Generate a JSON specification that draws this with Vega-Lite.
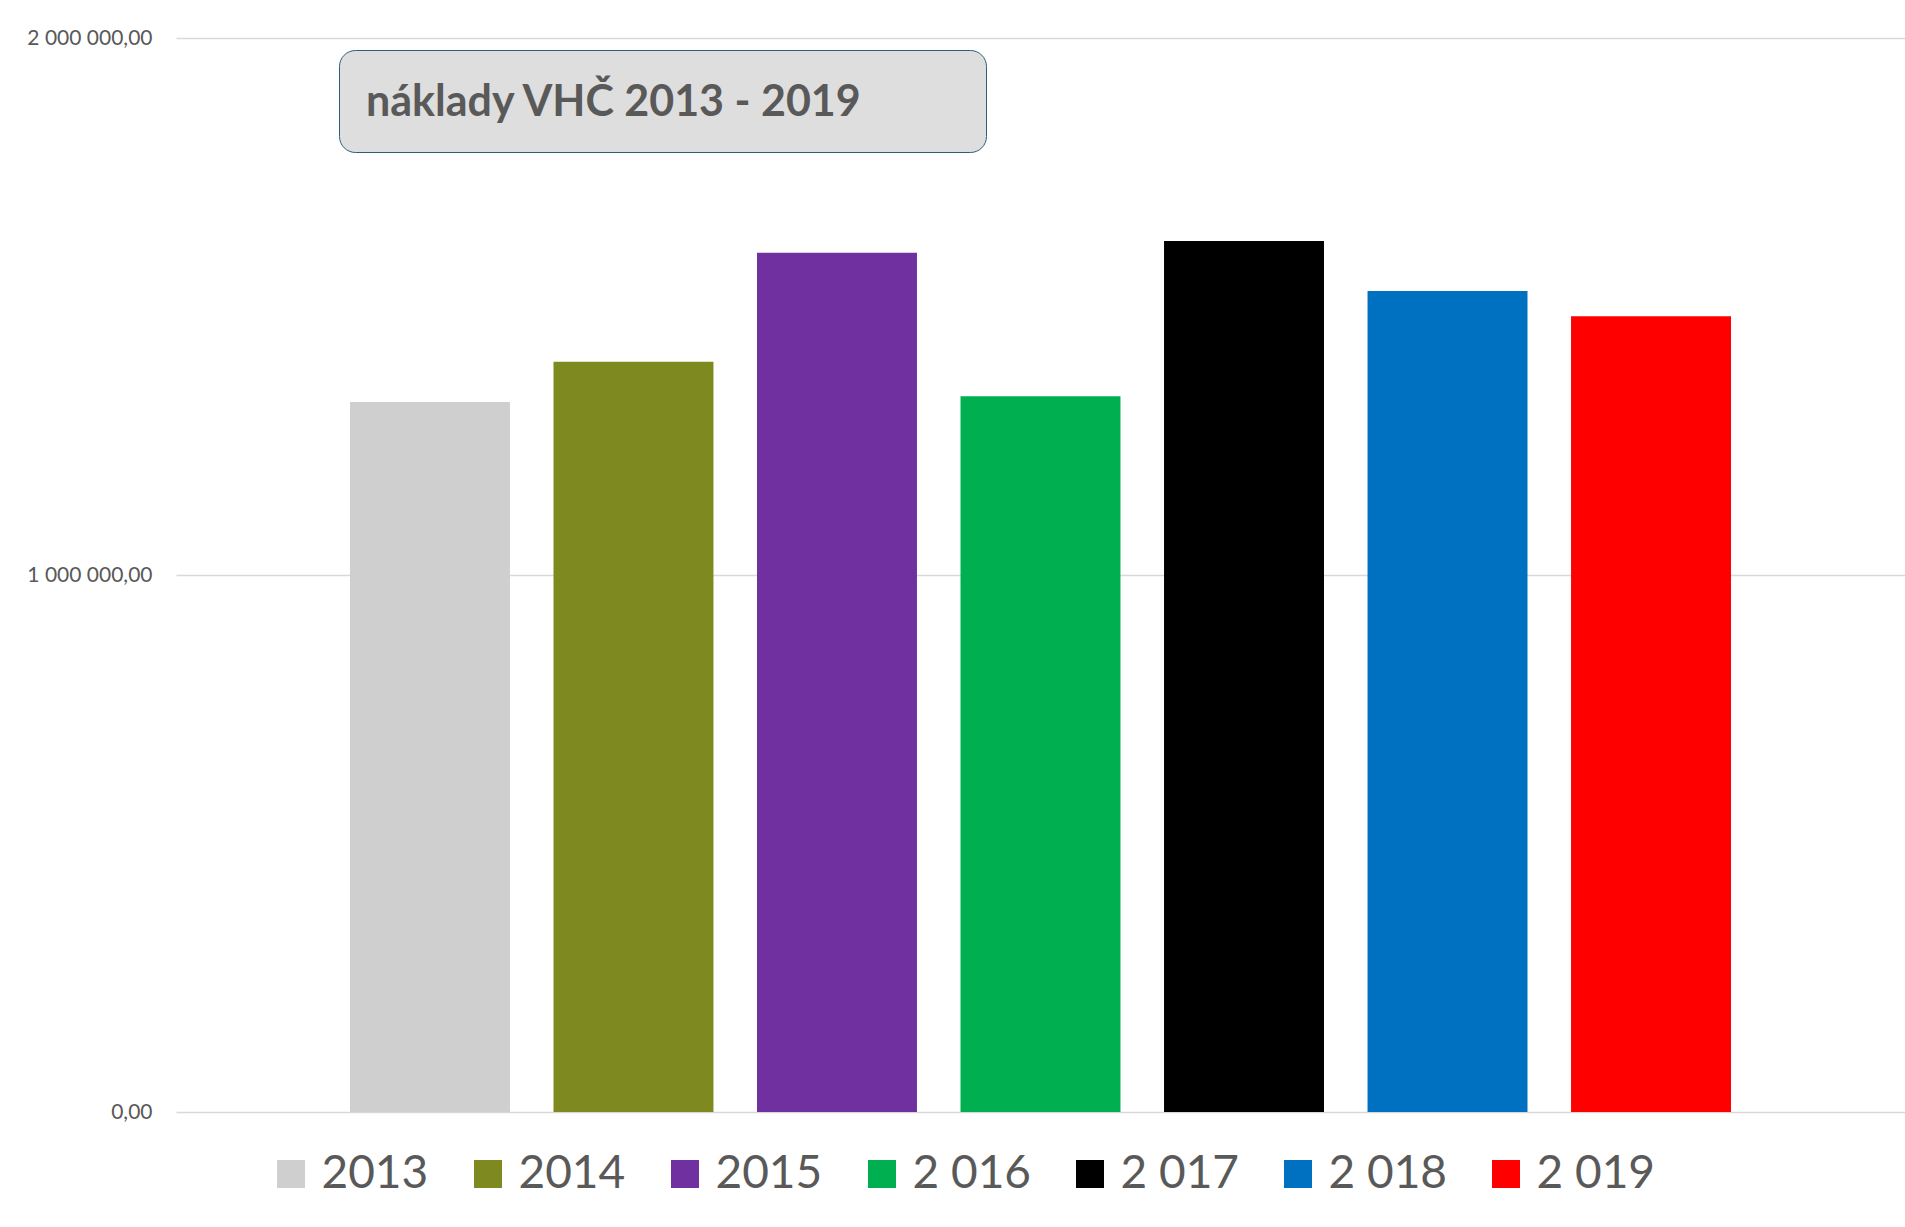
{
  "$schema": "https://vega.github.io/schema/vega-lite/v6.json",
  "width": 1729,
  "height": 1074,
  "autosize": {"type": "none"},
  "padding": {"left": 176, "top": 38, "right": 0, "bottom": 115},
  "background": "white",
  "config": {
    "font": "Lato",
    "view": {"stroke": null},
    "locale": {"number": {"decimal": ",", "thousands": " ", "grouping": [3], "currency": ["", ""]}}
  },
  "layer": [
    {
      "data": {"values": [
        {"rok": "2013", "naklady": 1322000},
        {"rok": "2014", "naklady": 1397000},
        {"rok": "2015", "naklady": 1600000},
        {"rok": "2 016", "naklady": 1333000},
        {"rok": "2 017", "naklady": 1622000},
        {"rok": "2 018", "naklady": 1529000},
        {"rok": "2 019", "naklady": 1482000}
      ]},
      "mark": {"type": "bar"},
      "encoding": {
        "x": {"field": "rok", "type": "nominal", "sort": null, "axis": null,
              "scale": {"paddingInner": 0.214, "paddingOuter": 0.855}},
        "y": {"field": "naklady", "type": "quantitative",
              "scale": {"domain": [0, 2000000]},
              "axis": {"values": [0, 1000000, 2000000], "format": ",.2f", "title": null,
                       "domain": false, "ticks": false, "labelPadding": 24,
                       "labelFontSize": 21, "labelColor": "#595959", "labelFont": "Lato",
                       "gridColor": "#d9d9d9", "gridWidth": 1.5}},
        "color": {"field": "rok", "type": "nominal", "sort": null,
                  "scale": {"domain": ["2013", "2014", "2015", "2 016", "2 017", "2 018", "2 019"],
                            "range": ["#cfcfcf", "#7e8a1f", "#7030a0", "#00b050", "#000000", "#0070c0", "#ff0000"]},
                  "legend": {"orient": "none", "legendX": 92, "legendY": 1113,
                             "direction": "horizontal", "columns": 7, "title": null,
                             "padding": 0, "labelFontSize": 46, "labelColor": "#595959",
                             "labelFont": "Lato", "labelLimit": 400,
                             "symbolType": "square", "symbolSize": 784, "symbolStrokeWidth": 0,
                             "labelOffset": 7.5, "columnPadding": 36}}
      }
    },
    {
      "data": {"values": [{"t": "náklady VHČ 2013 - 2019"}]},
      "mark": {"type": "point", "opacity": 0},
      "encoding": {
        "shape": {"field": "t", "type": "nominal",
                  "legend": {"orient": "none", "legendX": 163, "legendY": 12,
                             "title": "náklady VHČ 2013 - 2019", "titleOrient": "left",
                             "titleFont": "Lato", "titleFontSize": 43, "titleFontWeight": "bold",
                             "titleColor": "#595959", "titlePadding": 47, "titleLimit": 2000,
                             "titleAnchor": "end", "titleBaseline": "bottom",
                             "labelExpr": "''", "labelOffset": 0,
                             "symbolSize": 2304, "symbolOpacity": 0, "symbolStrokeWidth": 0,
                             "fillColor": "#dedede", "strokeColor": "#2c5d7c",
                             "cornerRadius": 16, "padding": 27,
                             "encode": {"legend": {"update": {"strokeWidth": {"value": 2.5}}}}}}
      }
    }
  ]
}
